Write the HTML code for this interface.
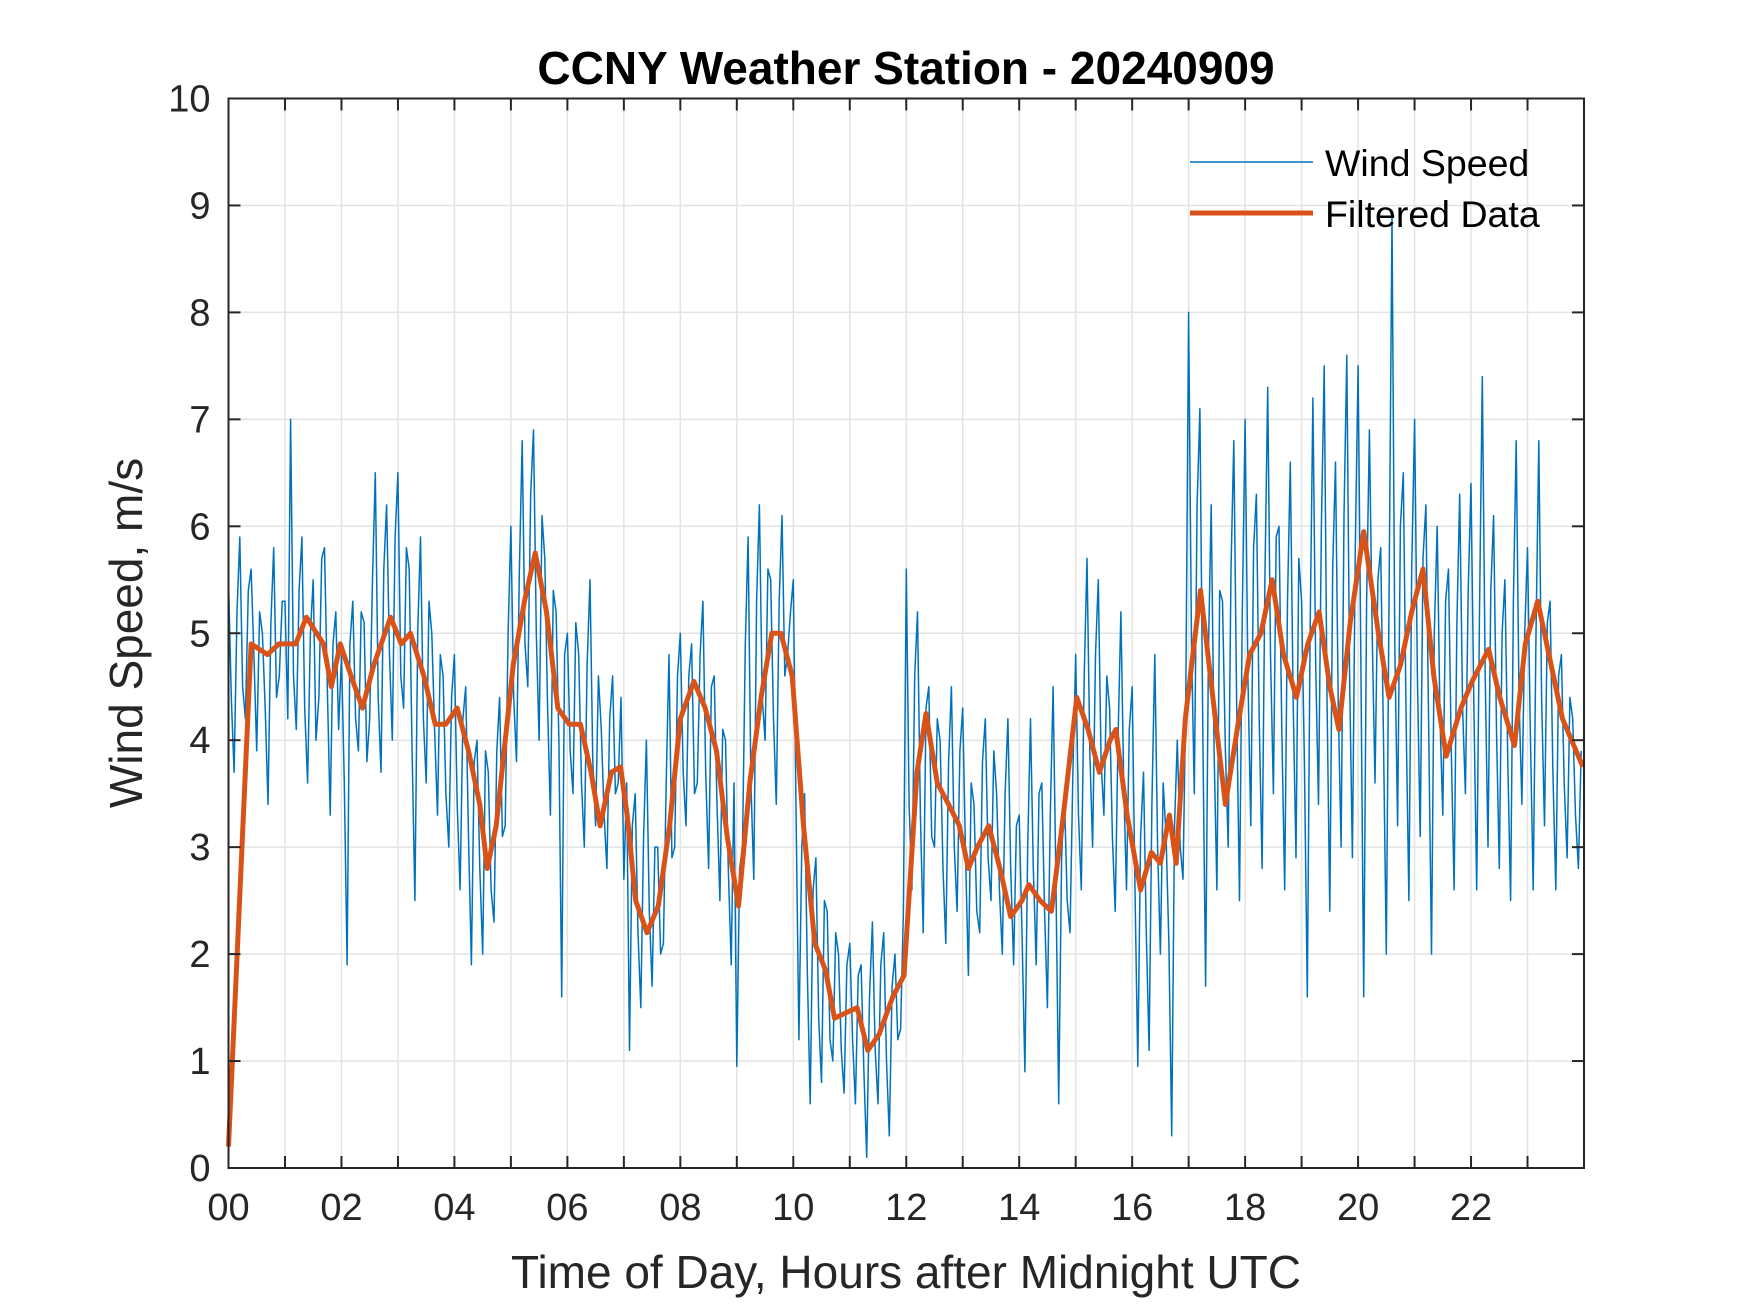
<!DOCTYPE html>
<html><head><meta charset="utf-8"><style>
html,body{margin:0;padding:0;background:#fff;}
svg{display:block;font-family:"Liberation Sans",Arial,sans-serif;}
</style></head><body>
<svg id="chart" width="1750" height="1313" viewBox="0 0 1750 1313" xmlns="http://www.w3.org/2000/svg">
<rect width="1750" height="1313" fill="#fff"/>
<g id="grid"></g>
<g id="series"></g>
<g id="axes"></g>
<text x="906" y="84" text-anchor="middle" font-size="46" font-weight="bold" fill="#000">CCNY Weather Station - 20240909</text>
<text x="906" y="1288" text-anchor="middle" font-size="46" fill="#262626">Time of Day, Hours after Midnight UTC</text>
<text transform="translate(142,633) rotate(-90)" text-anchor="middle" font-size="46" fill="#262626">Wind Speed, m/s</text>
<g>
<line x1="1190" y1="162" x2="1313" y2="162" stroke="#0072BD" stroke-width="1.5"/>
<text x="1325" y="176" font-size="37.5" fill="#000">Wind Speed</text>
<line x1="1190" y1="213" x2="1313" y2="213" stroke="#D95319" stroke-width="5"/>
<text x="1325" y="227" font-size="37.5" fill="#000">Filtered Data</text>
</g>
</svg>
<script>
const xTicks = [0,2,4,6,8,10,12,14,16,18,20,22];
const xTickLabels = ["00","02","04","06","08","10","12","14","16","18","20","22"];
const yTicks = [0,1,2,3,4,5,6,7,8,9,10];
const windSpeed = [
5.5,4.4,3.7,5.2,5.9,4.5,4.2,5.4,5.6,4.8,3.9,5.2,5.0,4.3,3.4,5.1,5.8,4.4,4.6,5.3,
5.3,4.2,7.0,4.6,4.1,5.4,5.9,4.3,3.6,5.0,5.5,4.0,4.4,5.7,5.8,4.5,3.3,4.9,5.2,4.1,
4.8,3.6,1.9,4.9,5.3,4.2,3.9,5.2,5.1,3.8,4.2,5.5,6.5,4.4,3.7,5.6,6.2,4.8,4.0,5.9,
6.5,4.6,4.3,5.8,5.6,3.9,2.5,5.0,5.9,4.2,3.6,5.3,5.0,4.1,3.3,4.8,4.6,3.5,3.0,4.4,
4.8,3.4,2.6,4.2,4.5,3.1,1.9,3.8,4.0,2.8,2.0,3.9,3.7,2.6,2.3,3.9,4.4,3.1,3.2,5.0,
6.0,4.4,3.8,5.6,6.8,4.9,4.5,6.3,6.9,5.0,4.0,6.1,5.7,4.3,3.3,5.4,5.2,4.0,1.6,4.8,
5.0,3.9,3.5,5.1,4.8,3.6,3.0,4.7,5.5,3.8,3.2,4.6,4.1,3.3,2.8,4.2,4.6,3.5,3.6,4.4,
2.7,3.6,1.1,3.2,3.5,2.2,1.5,3.1,4.0,2.4,1.7,3.0,3.0,2.0,2.1,3.6,4.8,2.9,3.0,4.6,
5.0,3.7,3.2,4.6,4.9,3.5,3.6,4.8,5.3,3.7,2.8,4.5,4.6,3.4,2.5,4.1,4.0,2.8,1.9,3.6,
0.95,2.8,3.0,4.9,5.9,3.6,2.7,5.3,6.2,4.4,4.0,5.6,5.5,4.2,3.4,5.3,6.1,4.6,4.8,5.2,
5.5,3.3,1.2,3.0,3.5,1.8,0.6,2.6,2.9,1.4,0.8,2.5,2.4,1.2,1.0,2.2,2.0,1.1,0.7,1.9,
2.1,1.2,0.6,1.8,1.9,0.9,0.1,1.6,2.3,1.1,0.6,1.9,2.2,1.0,0.3,1.7,2.0,1.2,1.3,2.4,
5.6,3.4,2.6,4.6,5.2,3.3,2.2,4.3,4.5,3.1,3.0,4.2,4.0,2.8,2.1,3.8,4.5,3.0,2.4,3.9,
4.3,2.9,1.8,3.6,3.4,2.4,2.2,3.8,4.2,2.9,2.5,3.9,3.5,2.6,2.0,3.5,4.2,2.8,1.9,3.2,
3.3,2.2,0.9,3.0,4.2,2.8,1.9,3.5,3.6,2.4,1.5,3.3,4.5,2.7,0.6,2.9,3.5,2.5,2.2,3.7,
4.8,3.3,2.6,4.6,5.7,3.9,3.0,4.8,5.5,3.8,3.3,4.6,4.3,3.1,2.4,4.0,5.2,3.6,2.6,4.1,
4.5,2.6,0.95,3.1,3.7,2.2,1.1,3.4,4.8,3.0,2.0,3.6,3.1,2.1,0.3,3.2,4.0,3.0,2.7,4.4,
8.0,4.9,3.5,6.2,7.1,4.1,1.7,4.8,6.2,3.9,2.6,5.4,5.3,3.9,3.0,5.6,6.8,4.3,2.5,5.2,
7.0,4.6,3.2,5.8,6.3,4.2,2.8,5.5,7.3,4.8,3.5,5.9,6.0,4.1,2.6,5.3,6.6,4.4,2.9,5.7,
5.3,3.8,1.6,5.0,7.2,4.7,3.4,6.0,7.5,4.4,2.4,5.6,6.6,4.3,3.0,6.1,7.6,4.6,2.9,5.8,
7.5,4.7,1.6,5.3,6.9,5.0,3.6,5.5,5.8,4.0,2.0,5.4,8.9,4.9,3.2,6.0,6.5,4.2,2.5,5.6,
7.0,4.6,3.1,5.7,6.2,4.1,2.0,5.0,6.0,4.2,3.3,5.3,5.6,3.9,2.6,5.1,6.3,4.3,3.5,5.4,
6.4,4.3,2.6,5.2,7.4,4.6,3.0,5.4,6.1,4.1,2.8,5.0,5.5,3.8,2.5,5.3,6.8,4.4,3.4,5.0,
5.8,4.1,2.6,5.0,6.8,4.4,3.2,5.1,5.3,3.7,2.6,4.6,4.8,3.6,2.9,4.4,4.2,3.3,2.8,3.9
];
const windStepHours = 0.05;
const filtHours = [0,0.4,0.69,0.89,1.19,1.38,1.68,1.82,1.98,2.17,2.37,2.57,2.87,3.06,3.22,3.46,3.66,3.85,4.05,4.25,4.45,4.58,4.74,5.04,5.24,5.43,5.63,5.83,6.03,6.23,6.42,6.58,6.78,6.94,7.06,7.21,7.41,7.61,7.81,8.0,8.24,8.44,8.64,8.83,9.03,9.23,9.43,9.62,9.78,9.98,10.18,10.38,10.57,10.73,10.93,11.13,11.32,11.52,11.76,11.96,12.19,12.35,12.55,12.75,12.94,13.1,13.26,13.46,13.66,13.85,14.05,14.17,14.37,14.57,14.76,15.02,15.22,15.42,15.61,15.71,15.91,16.15,16.34,16.5,16.66,16.78,16.94,17.21,17.45,17.65,17.89,18.08,18.28,18.48,18.68,18.91,19.11,19.31,19.5,19.66,19.86,20.1,20.36,20.55,20.75,20.95,21.15,21.34,21.56,21.82,22.02,22.31,22.51,22.77,22.96,23.18,23.42,23.62,23.98];
const filtValues = [0.2,4.9,4.8,4.9,4.9,5.15,4.9,4.5,4.9,4.6,4.3,4.7,5.15,4.9,5.0,4.6,4.15,4.15,4.3,3.9,3.4,2.8,3.2,4.7,5.3,5.75,5.2,4.3,4.15,4.15,3.7,3.2,3.7,3.75,3.3,2.5,2.2,2.45,3.2,4.2,4.55,4.3,3.9,3.1,2.45,3.6,4.4,5.0,5.0,4.6,3.2,2.1,1.85,1.4,1.45,1.5,1.1,1.25,1.6,1.8,3.7,4.25,3.6,3.4,3.2,2.8,3.0,3.2,2.8,2.35,2.5,2.65,2.5,2.4,3.2,4.4,4.1,3.7,4.0,4.1,3.3,2.6,2.95,2.85,3.3,2.85,4.2,5.4,4.3,3.4,4.2,4.8,5.0,5.5,4.8,4.4,4.9,5.2,4.5,4.1,5.1,5.95,5.0,4.4,4.7,5.2,5.6,4.6,3.85,4.3,4.55,4.85,4.4,3.95,4.9,5.3,4.7,4.2,3.75];

const X0=228.5, X1=1584, Y0=1168, Y1=98.5, XMAX=24, YMAX=10;
const sx = h => X0 + (X1-X0)*h/XMAX;
const sy = v => Y0 - (Y0-Y1)*v/YMAX;
const NS='http://www.w3.org/2000/svg';
function mk(tag, attrs, parent){const e=document.createElementNS(NS,tag);for(const k in attrs)e.setAttribute(k,attrs[k]);parent.appendChild(e);return e;}
const grid=document.getElementById('grid'), axes=document.getElementById('axes'), series=document.getElementById('series');

for(let h=1;h<24;h++){
  const g=mk('line',{x1:sx(h),x2:sx(h),y1:Y1,y2:Y0,stroke:'#e3e3e3','stroke-width':1.5},grid);
  
  
  for(const [ya,yb] of [[Y0,Y0-12],[Y1,Y1+12]]){
    const t=mk('line',{x1:sx(h),x2:sx(h),y1:ya,y2:yb,stroke:'#262626','stroke-width':2},axes);
    
    
  }
}
yTicks.forEach(v=>{
  if(v>0&&v<YMAX){
    const g=mk('line',{x1:X0,x2:X1,y1:sy(v),y2:sy(v),stroke:'#e3e3e3','stroke-width':1.5},grid);
    
    
    for(const [xa,xb] of [[X0,X0+12],[X1,X1-12]]){
      const t=mk('line',{x1:xa,x2:xb,y1:sy(v),y2:sy(v),stroke:'#262626','stroke-width':2},axes);
      
      
    }
  }
  const l=mk('text',{x:X0-18,y:sy(v)+13,'text-anchor':'end','font-size':38,fill:'#262626'},axes);
  l.textContent=String(v);
  
  
});
xTicks.forEach((h,i)=>{
  const l=mk('text',{x:sx(h),y:Y0+52,'text-anchor':'middle','font-size':38,fill:'#262626'},axes);
  l.textContent=xTickLabels[i];
  
  
});
const frame=mk('rect',{x:X0,y:Y1,width:X1-X0,height:Y0-Y1,fill:'none',stroke:'#262626','stroke-width':2},axes);



const wp=windSpeed.map((v,i)=>sx(i*windStepHours).toFixed(1)+','+sy(v).toFixed(1)).join(' ');
const w=mk('polyline',{points:wp,fill:'none',stroke:'#0072BD','stroke-width':1.5,'stroke-linejoin':'round'},series);


const fp=filtValues.map((v,i)=>sx(filtHours[i]).toFixed(1)+','+sy(v).toFixed(1)).join(' ');
const f=mk('polyline',{points:fp,fill:'none',stroke:'#D95319','stroke-width':5,'stroke-linejoin':'round'},series);


</script>
</body></html>
